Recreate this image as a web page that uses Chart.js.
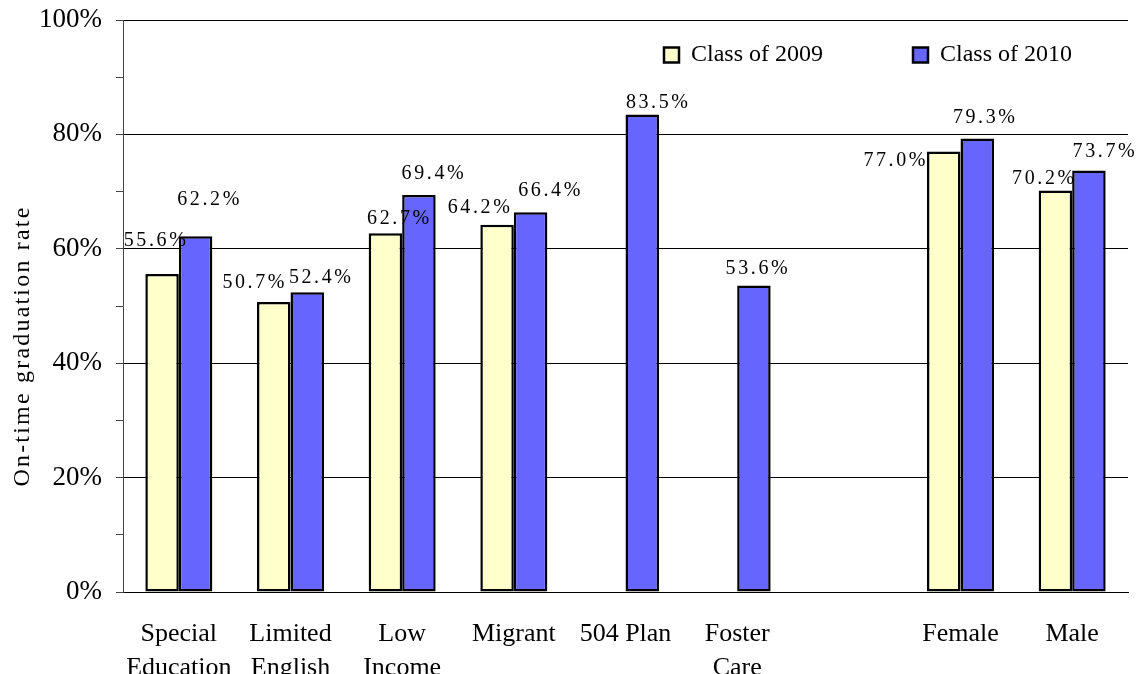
<!DOCTYPE html>
<html>
<head>
<meta charset="utf-8">
<script src="https://cdn.jsdelivr.net/npm/chart.js@4"></script>
<style>
  body { margin: 0; background: #fff; }
  #wrap { width: 1137px; height: 674px; }
</style>
</head>
<body>
<div id="wrap"><canvas id="gradChart"></canvas></div>
<script>
// ============ DATA ============
const categories = [
    ['Special', 'Education'], ['Limited', 'English'], ['Low', 'Income'], 'Migrant',
    '504 Plan', ['Foster', 'Care'], '', 'Female', 'Male'
];
const class2009 = [55.6, 50.7, 62.7, 64.2, null, null, null, 77.0, 70.2];
const class2010 = [62.2, 52.4, 69.4, 66.4, 83.5, 53.6, null, 79.3, 73.7];
const seriesNames = ['Class of 2009', 'Class of 2010'];
const yTickLabels = ['0%', '20%', '40%', '60%', '80%', '100%'];

// label nudges (px) relative to bar centre / top, as placed in the original
const labelNudge = [
    [[-7, -33], [-20, -19], [13, -15], [-18, -17], null, null, null, [-49, 9], [-12, -12]],
    [[13, -36], [13, -15], [14, -21], [19, -21], [15, -12], [3, -17], null, [7, -21], [15, -19]]
];

const SERIF = "'Liberation Serif', 'Times New Roman', serif";

// ============ PLUGINS ============
const valueLabels = {
    id: 'valueLabels',
    afterDatasetsDraw(chart) {
        const ctx = chart.ctx;
        ctx.save();
        ctx.font = '20px ' + SERIF;
        ctx.letterSpacing = '2.6px';
        ctx.fillStyle = '#000';
        ctx.textAlign = 'center';
        ctx.textBaseline = 'middle';
        chart.data.datasets.forEach((ds, di) => {
            chart.getDatasetMeta(di).data.forEach((bar, i) => {
                const v = ds.data[i];
                if (v == null) return;
                const n = labelNudge[di][i] || [0, -15];
                ctx.fillText(v.toFixed(1) + '%', bar.x + n[0] + 1, bar.y + n[1]);
            });
        });
        ctx.restore();
    }
};

// a 'chartArea' legend stacks its items; lay it out as one row instead
function placeLegend(chart) {
    const leg = chart.legend;
    const pad = leg.options.labels.padding;
    leg.left = 664 - pad;
    leg.right = 3000;
    leg.top = 55 - pad - 12;
}

const placement = {
    id: 'placement',
    beforeLayout(chart) {
        if (chart.legend) chart.legend.isHorizontal = () => true;
    },
    afterLayout(chart) {
        placeLegend(chart);
        // y title: spaced out and sitting a bit low, as in the original
        const y = chart.scales.y;
        if (!y._spaced) {
            const orig = y.drawTitle.bind(y);
            y.drawTitle = function () {
                const ctx = this.ctx;
                ctx.save();
                ctx.letterSpacing = '2.2px';
                ctx.translate(0, 40);
                orig();
                ctx.restore();
            };
            y._spaced = true;
        }
    },
    beforeDraw(chart) {
        placeLegend(chart);
    }
};

// ============ CHART ============
new Chart(document.getElementById('gradChart'), {
    type: 'bar',
    data: {
        labels: categories,
        datasets: [
            { label: seriesNames[0], data: class2009, backgroundColor: '#FFFFCC', borderColor: '#000', borderWidth: 2.5, borderSkipped: false },
            { label: seriesNames[1], data: class2010, backgroundColor: '#6666FF', borderColor: '#000', borderWidth: 2.5, borderSkipped: false }
        ]
    },
    options: {
        responsive: true,
        maintainAspectRatio: false,
        animation: false,
        categoryPercentage: 0.6,
        barPercentage: 1.0,
        layout: { padding: { left: 0, top: 20, right: 9, bottom: 0 } },
        plugins: {
            tooltip: { enabled: false },
            legend: {
                position: 'chartArea',
                align: 'start',
                labels: {
                    font: { family: SERIF, size: 24 },
                    color: '#000',
                    boxWidth: 15,
                    boxHeight: 15,
                    padding: 90
                }
            }
        },
        scales: {
            x: {
                grid: { display: false, drawTicks: false },
                border: { display: true, color: '#000', width: 1 },
                ticks: {
                    font: { family: SERIF, size: 26, lineHeight: 1.31 },
                    color: '#000',
                    padding: 25,
                    maxRotation: 0,
                    autoSkip: false
                },
                afterFit(scale) { scale.height = 82; }
            },
            y: {
                min: 0,
                max: 100,
                ticks: {
                    stepSize: 5,
                    font: { family: SERIF, size: 27 },
                    color: '#000',
                    padding: 14,
                    callback: v => (v % 20 === 0 ? yTickLabels[v / 20] : '')
                },
                grid: {
                    color: c => (c.tick && c.tick.value % 20 === 0 && c.tick.value > 0 ? '#000' : 'rgba(0,0,0,0)'),
                    tickColor: '#444',
                    tickLength: 7,
                    lineWidth: 1
                },
                border: { color: '#444', width: 1 },
                title: {
                    display: true,
                    text: 'On-time graduation rate',
                    font: { family: SERIF, size: 24 },
                    color: '#000',
                    padding: { top: 8, bottom: 0 }
                },
                afterFit(scale) {
                    scale.width = 123;
                    scale.paddingTop = 0;
                    scale.paddingBottom = 0;
                }
            }
        }
    },
    plugins: [valueLabels, placement]
});
</script>
</body>
</html>
